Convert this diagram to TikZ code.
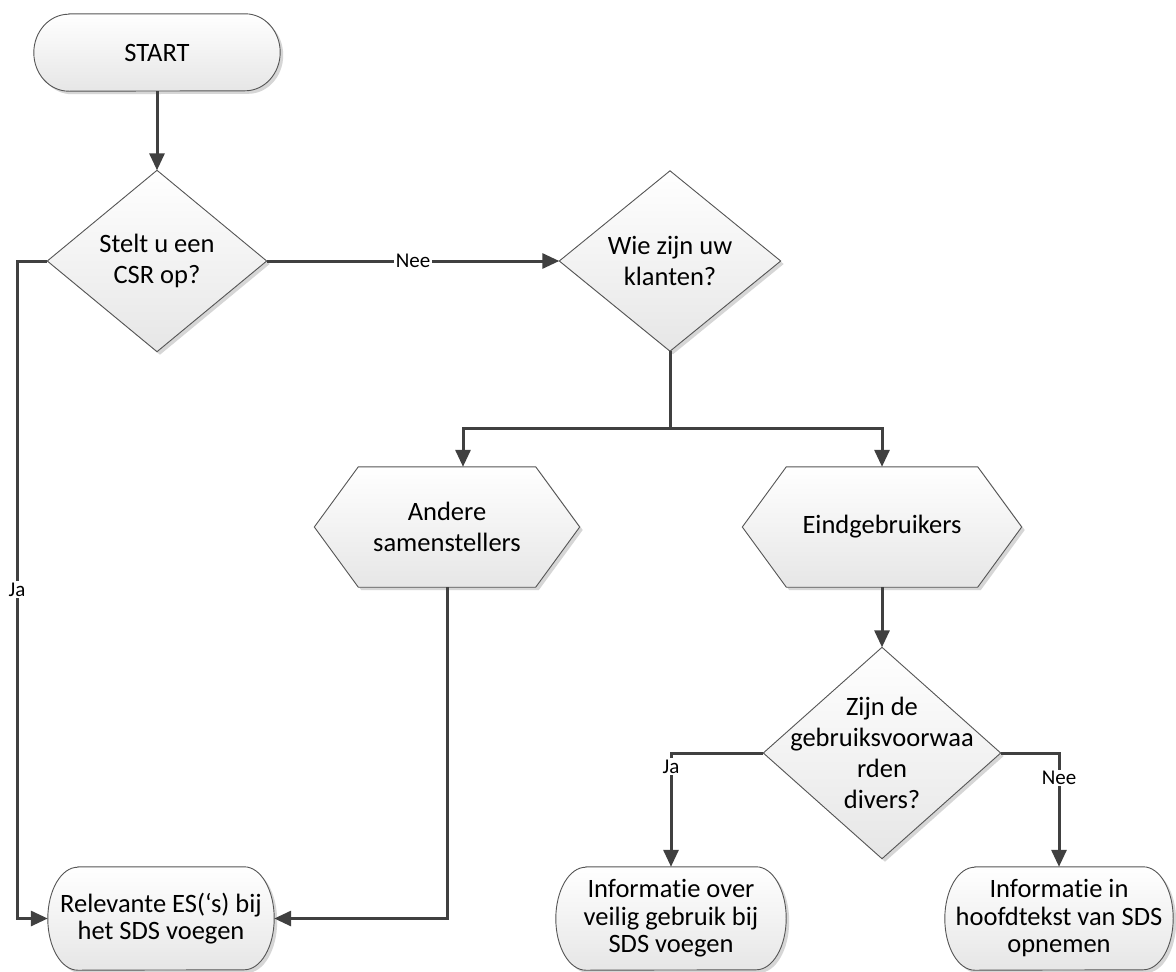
\documentclass[tikz,border=0pt]{standalone}
\usepackage{fontspec}
\setmainfont{Carlito}[Ligatures={CommonOff,ContextualOff,RequiredOff}]
\usetikzlibrary{arrows.meta,calc,shadows,backgrounds}
\definecolor{linec}{HTML}{404040}
\definecolor{bordc}{HTML}{555555}
\definecolor{shadc}{HTML}{D6D6D6}
\definecolor{fillbot}{HTML}{E6E6E6}
% outline helpers (node, rx, ry)
\newcommand\termpath[3]{([xshift=#2pt]#1.north west) -- ([xshift=-#2pt]#1.north east) arc[start angle=90,end angle=-90,x radius=#2pt,y radius=#3pt] -- ([xshift=#2pt]#1.south west) arc[start angle=270,end angle=90,x radius=#2pt,y radius=#3pt] -- cycle}
\newcommand\diampath[1]{(#1.north) -- (#1.east) -- (#1.south) -- (#1.west) -- cycle}
\newcommand\hexpath[2]{(#1.west) -- ([xshift=#2pt]#1.north west) -- ([xshift=-#2pt]#1.north east) -- (#1.east) -- ([xshift=-#2pt]#1.south east) -- ([xshift=#2pt]#1.south west) -- cycle}
\begin{document}
\begin{tikzpicture}[x=1pt,y=-1pt,
  box/.style={shape=rectangle, draw=none, inner sep=0pt, align=center, text=black},
  termtxt/.style={box, font=\fontsize{26.5}{27.5}\selectfont},
  dectxt/.style={box, font=\fontsize{26.5}{31}\selectfont},
  outline/.style={draw=bordc, line width=0.9pt, top color=white, bottom color=fillbot,
     drop shadow={shadow xshift=3pt, shadow yshift=-3pt, fill=shadc, opacity=1}},
  conn/.style={draw=linec, line width=3pt, -{Triangle[length=17pt,width=15pt]}},
  plain/.style={draw=linec, line width=3pt},
  lab/.style={fill=white, inner sep=1.5pt, font=\fontsize{21}{23}\selectfont, text=black},
]
\useasboundingbox (0,0) rectangle (1176,972);

% nodes (text + anchors)
\node[termtxt, minimum width=246pt, minimum height=77pt] (start) at (157,52.5) {START};
\node[dectxt, minimum width=219pt, minimum height=181pt] (d1) at (157,261) {Stelt u een\\CSR op?};
\node[dectxt, minimum width=221pt, minimum height=180pt] (d2) at (670,261) {Wie zijn uw\\klanten?};
\node[dectxt, minimum width=265pt, minimum height=120pt] (ander) at (447,527) {Andere\\samenstellers};
\node[dectxt, minimum width=279pt, minimum height=120pt] (eind) at (882,527) {Eindgebruikers};
\node[dectxt, minimum width=237pt, minimum height=211pt] (d3) at (882,753) {Zijn de\\gebruiksvoorwaa\\rden\\divers?};
\node[termtxt, minimum width=226pt, minimum height=103pt] (rel) at (161,918.5) {Relevante ES(‘s) bij\\het SDS voegen};
\node[termtxt, minimum width=230pt, minimum height=103pt] (info1) at (671,918.5) {Informatie over\\veilig gebruik bij\\SDS voegen};
\node[termtxt, minimum width=228pt, minimum height=103pt] (info2) at (1059,918.5) {Informatie in\\hoofdtekst van SDS\\opnemen};

% shapes
\begin{pgfonlayer}{background}
\fill[white] (0,0) rectangle (1176,972);
\path[outline] \termpath{start}{35}{38.5};
\path[outline] \diampath{d1};
\path[outline] \diampath{d2};
\path[outline] \hexpath{ander}{44};
\path[outline] \hexpath{eind}{44};
\path[outline] \diampath{d3};
\path[outline] \termpath{rel}{30}{51.5};
\path[outline] \termpath{info1}{30}{51.5};
\path[outline] \termpath{info2}{30}{51.5};
\end{pgfonlayer}

% connectors
\coordinate (c1) at (17,261);
\coordinate (c2) at (17,918.5);
\coordinate (sp) at (670,428);
\coordinate (spL) at (463,428);

\draw[conn] (start.south) -- (d1.north);
\draw[conn] (d1.west) -- (c1) -- node[lab]{Ja} (c2) -- (rel.west);
\draw[conn] (d1.east) -- node[lab]{Nee} (d2.west);
\draw[plain] (d2.south) -- (sp);
\draw[conn] (sp) -- (spL) -- (spL |- ander.north);
\draw[conn] (sp) -| (eind.north);
\draw[conn] (ander.south) |- (rel.east);
\draw[conn] (eind.south) -- (d3.north);
\draw[conn] (d3.west) -| node[lab,pos=0.56]{Ja} (info1.north);
\draw[conn] (d3.east) -| node[lab,pos=0.61]{Nee} (info2.north);
\end{tikzpicture}
\end{document}
